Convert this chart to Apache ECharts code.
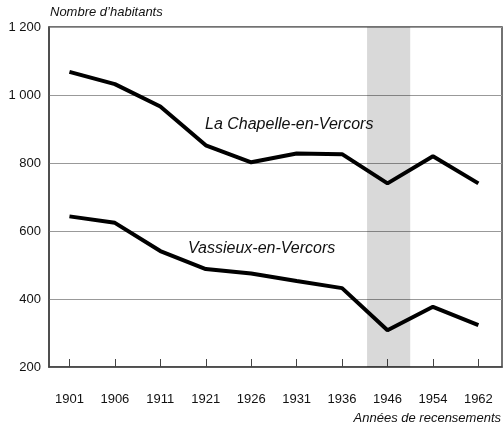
<!DOCTYPE html>
<html><head><meta charset="utf-8">
<script src="https://cdn.jsdelivr.net/npm/echarts@6/dist/echarts.min.js"></script>
<style>html,body{margin:0;padding:0;background:#fff}#c{width:503px;height:427px}</style>
</head><body><div id="c"></div>
<script>
var years = ['1901','1906','1911','1921','1926','1931','1936','1946','1954','1962'];
var laChapelle = [1068, 1032, 966, 852, 802, 828, 826, 740, 820, 740];
var vassieux = [643, 624, 541, 488, 475, 453, 432, 308, 377, 323];
var yTicks = [200, 400, 600, 800, 1000, 1200];
var warBand = [6.55, 7.5];
var yTitle = "Nombre d\u2019habitants";
var xTitle = "Ann\u00e9es de recensements";
var name1 = "La Chapelle-en-Vercors";
var name2 = "Vassieux-en-Vercors";

var idx = years.map(function(_, i){ return i; });
function pairs(arr){ return arr.map(function(v,i){ return [i, v]; }); }
var font = 'Liberation Sans, Arial, sans-serif';

var chart = echarts.init(document.getElementById('c'), null, {renderer:'canvas'});
chart.setOption({
  animation:false,
  grid:{left:49, top:27, width:453, height:340, show:true, borderColor:'#444', borderWidth:1.5, backgroundColor:'transparent'},
  xAxis:{type:'value', min:-0.45, max:9.52,
    axisLine:{show:true, onZero:false, lineStyle:{color:'#444', width:1.5}},
    splitLine:{show:false},
    axisTick:{show:true, inside:true, length:8, customValues:idx, lineStyle:{color:'#444', width:1}},
    axisLabel:{customValues:idx, margin:26, color:'#111', fontSize:13, fontFamily:font,
      formatter:function(v){ return years[Math.round(v)]; }}
  },
  yAxis:{type:'value', min:yTicks[0], max:yTicks[yTicks.length-1], interval:200,
    axisLine:{show:true, onZero:false, lineStyle:{color:'#444', width:1.5}},
    axisTick:{show:false},
    splitLine:{show:true, lineStyle:{color:'#999', width:1}},
    axisLabel:{margin:8, color:'#111', fontSize:13, fontFamily:font,
      formatter:function(v){ return v >= 1000 ? String(v).replace(/(\d)(\d{3})$/, '$1 $2') : String(v); }}
  },
  series:[
    {type:'line', data:pairs(laChapelle), symbol:'none', lineStyle:{color:'#000', width:4}, z:5,
      markArea:{silent:true, itemStyle:{color:'rgba(0,0,0,0.15)'}, data:[[{xAxis:warBand[0]},{xAxis:warBand[1]}]]}},
    {type:'line', data:pairs(vassieux), symbol:'none', lineStyle:{color:'#000', width:4}, z:5}
  ],
  graphic:[
    {type:'text', left:50, top:6, style:{text:yTitle, font:'italic 13px '+font, fill:'#111'}},
    {type:'text', right:2, top:412, style:{text:xTitle, font:'italic 13px '+font, fill:'#111'}},
    {type:'text', left:205, top:117, style:{text:name1, font:'italic 16px '+font, fill:'#111'}},
    {type:'text', left:188, top:241, style:{text:name2, font:'italic 16px '+font, fill:'#111'}}
  ]
});
</script></body></html>
